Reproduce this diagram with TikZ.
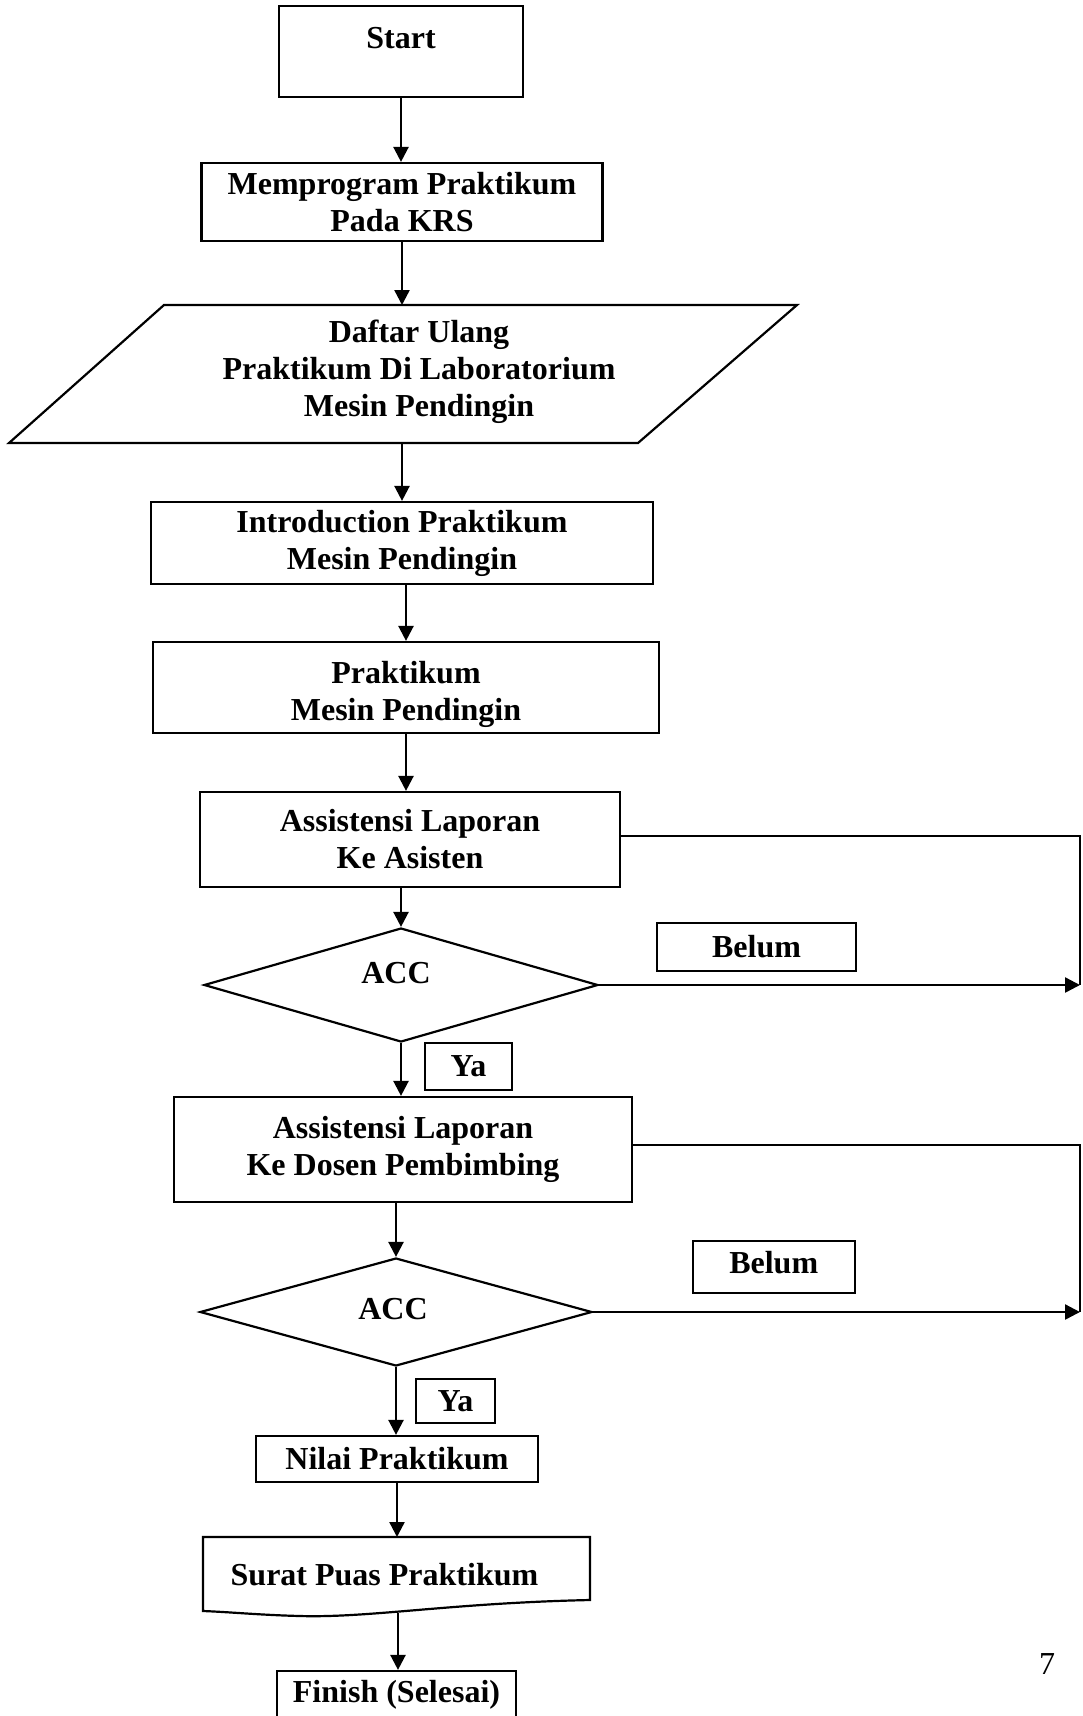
\documentclass[tikz,border=0pt]{standalone}
\usepackage{fontspec}
\setmainfont{Liberation Serif}
\usetikzlibrary{arrows.meta,shapes.geometric}
\begin{document}
\begin{tikzpicture}[x=1pt,y=-1pt,
  box/.style={draw, line width=2.2pt, rectangle, inner sep=0pt, align=center, font=\bfseries\fontsize{32}{37}\selectfont},
  dec/.style={draw, line width=2.2pt, diamond, inner sep=0pt, align=center, font=\bfseries\fontsize{32}{37}\selectfont},
  txt/.style={inner sep=0pt, align=center, font=\bfseries\fontsize{32}{37}\selectfont},
  arr/.style={line width=2.4pt, -{Triangle[length=15pt,width=15pt]}},
  ln/.style={line width=2.2pt}]
\useasboundingbox (0,0) rectangle (1083,1716);
% nodes
\node[box, minimum width=244pt, minimum height=91pt] (start) at (401,51.5) {\raisebox{13.5pt}[\height][\depth]{Start}};
\node[box, minimum width=401pt, minimum height=78pt] (mem) at (402,202) {Memprogram Praktikum\\Pada KRS};
\draw[ln] (164,305) -- (797,305) -- (638,443) -- (9,443) -- cycle;
\node[txt] (daftar) at (419,372) {Daftar Ulang\\Praktikum Di Laboratorium\\Mesin Pendingin};
\coordinate (daftarT) at (402,305);
\coordinate (daftarB) at (402,443);
\node[box, minimum width=502pt, minimum height=82pt] (intro) at (402,543) {Introduction Praktikum\\Mesin Pendingin};
\node[box, minimum width=506pt, minimum height=91pt] (prak) at (406,687.5) {\raisebox{-7pt}[\height][\depth]{\begin{tabular}{@{}c@{}}Praktikum\\Mesin Pendingin\end{tabular}}};
\node[box, minimum width=420pt, minimum height=95pt] (as1) at (410,839.5) {Assistensi Laporan\\Ke Asisten};
\node[dec, minimum width=394pt, minimum height=114pt] (dia1) at (401,985) {\kern-5pt\raisebox{12pt}[\height][\depth]{ACC}\kern5pt};
\node[box, minimum width=199pt, minimum height=48pt] (belum1) at (756.5,947) {Belum};
\node[box, minimum width=87pt, minimum height=47pt] (ya1) at (468.5,1066.5) {Ya};
\node[box, minimum width=458pt, minimum height=105pt] (as2) at (403,1149.5) {Assistensi Laporan\\Ke Dosen Pembimbing};
\node[dec, minimum width=392pt, minimum height=108pt] (dia2) at (396,1312) {\kern-3pt\raisebox{3pt}[\height][\depth]{ACC}\kern3pt};
\node[box, minimum width=162pt, minimum height=52pt] (belum2) at (773.7,1267) {\raisebox{4pt}[\height][\depth]{Belum}};
\node[box, minimum width=79pt, minimum height=44pt] (ya2) at (455.5,1401) {Ya};
\node[box, minimum width=282pt, minimum height=46pt] (nilai) at (397,1459) {Nilai Praktikum};
\draw[ln] (203,1537) -- (590,1537) -- (590,1600) .. controls (450,1603) and (370,1618) .. (300,1616) .. controls (260,1615) and (230,1612) .. (203,1611) -- cycle;
\node[txt] (doc) at (384.5,1575) {Surat Puas Praktikum};
\coordinate (docT) at (398,1537);
\coordinate (docB) at (398,1613);
\node[box, minimum width=239pt, minimum height=58pt] (finish) at (396.5,1700) {\raisebox{5pt}[\height][\depth]{Finish (Selesai)}};
\node[inner sep=0pt, font=\fontsize{32}{37}\selectfont] (pg) at (1047,1664) {7};
% connectors
\draw[arr] (start.south) -- (start.south |- mem.north);
\draw[arr] (mem.south) -- (mem.south |- daftarT);
\draw[arr] (daftarB) -- (daftarB |- intro.north);
\draw[arr] (prak.north |- intro.south) -- (prak.north);
\draw[arr] (prak.south) -- (prak.south |- as1.north);
\draw[arr] (dia1.north |- as1.south) -- (dia1.north);
\draw[arr] (dia1.south) -- (dia1.south |- as2.north);
\draw[arr] (dia2.north |- as2.south) -- (dia2.north);
\draw[arr] (dia2.south) -- (dia2.south |- nilai.north);
\draw[arr] (nilai.south) -- (nilai.south |- docT);
\draw[arr] (docB) -- (docB |- finish.north);
\coordinate (r1) at (1080,836);
\draw[ln] (as1.east |- r1) -- (r1) -- (r1 |- dia1.east);
\draw[arr] (dia1.east) -- (r1 |- dia1.east);
\coordinate (r2) at (1080,1145);
\draw[ln] (as2.east |- r2) -- (r2) -- (r2 |- dia2.east);
\draw[arr] (dia2.east) -- (r2 |- dia2.east);
\end{tikzpicture}
\end{document}
